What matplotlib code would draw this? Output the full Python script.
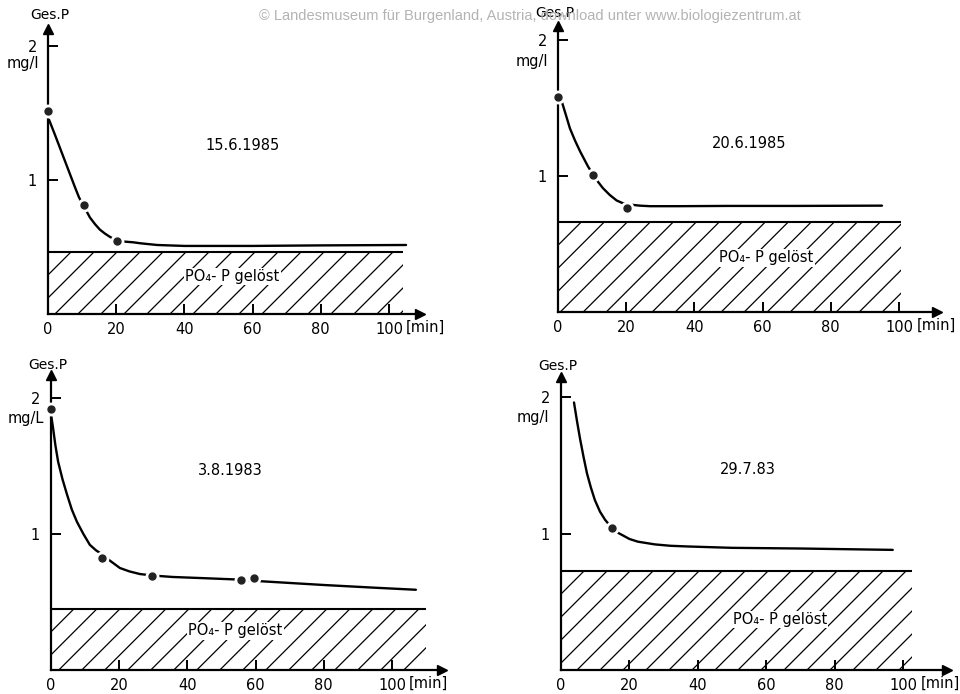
import matplotlib
matplotlib.use("Agg")
import matplotlib.pyplot as plt
from matplotlib.patches import Rectangle
import numpy as np

plt.rcParams['font.family'] = ['DejaVu Sans']

# ---------------- data ----------------
dates = ["15.6.1985", "20.6.1985", "3.8.1983", "29.7.83"]
unit_labels = ["mg/l", "mg/l", "mg/L", "mg/l"]

p1_pts_x = [0, 10.6, 20.2]
p1_pts_y = [1.515, 0.81, 0.545]
p1_curve_x = [0.3, 2, 3.5, 5, 6.5, 8, 9.1, 10.6, 12.3, 13.8, 15.2, 16.7, 18.2, 20.2, 22.6, 25, 27, 32, 40, 60, 80, 105]
p1_curve_y = [1.45, 1.34, 1.24, 1.14, 1.04, 0.94, 0.87, 0.80, 0.72, 0.67, 0.63, 0.60, 0.575, 0.55, 0.54, 0.535, 0.528, 0.515, 0.508, 0.508, 0.512, 0.515]
p1_po4 = 0.463
p1_po4_end = 104

p2_pts_x = [0, 10.3, 20.2]
p2_pts_y = [1.58, 1.01, 0.765]
p2_curve_x = [1.2, 2.3, 3.5, 5, 6.5, 8.8, 10.3, 11.8, 13.2, 15.2, 17.2, 19, 21, 24, 27, 35, 50, 70, 95]
p2_curve_y = [1.54, 1.45, 1.35, 1.26, 1.18, 1.07, 1.01, 0.955, 0.91, 0.86, 0.82, 0.80, 0.79, 0.782, 0.778, 0.778, 0.78, 0.78, 0.782]
p2_po4 = 0.66
p2_po4_end = 100.5

p3_pts_x = [0, 15, 29.6, 55.7, 59.6]
p3_pts_y = [1.92, 0.82, 0.69, 0.66, 0.675]
p3_curve_x = [0, 0.6, 1.3, 2.1, 3.4, 4.7, 6.1, 7.6, 9.5, 11.4, 13.2, 15, 17.5, 20.2, 23, 26, 29.6, 35.7, 45, 55, 60, 70, 80, 95, 107]
p3_curve_y = [1.88, 1.78, 1.65, 1.53, 1.40, 1.29, 1.18, 1.09, 1.00, 0.92, 0.88, 0.85, 0.80, 0.75, 0.725, 0.706, 0.695, 0.684, 0.675, 0.665, 0.655, 0.64, 0.625, 0.605, 0.59]
p3_po4 = 0.45
p3_po4_end = 110

p4_pts_x = [14.9]
p4_pts_y = [1.04]
p4_curve_x = [3.8, 4.7, 5.6, 6.6, 7.6, 8.7, 9.9, 11.4, 12.9, 14.9, 16.3, 17.8, 20, 22.5, 25, 27.5, 32, 37, 50, 70, 97]
p4_curve_y = [1.96, 1.82, 1.69, 1.56, 1.44, 1.34, 1.245, 1.16, 1.10, 1.04, 1.01, 0.99, 0.96, 0.94, 0.93, 0.92, 0.91, 0.905, 0.895, 0.89, 0.88]
p4_po4 = 0.725
p4_po4_end = 102.6

x_ticks = [0, 20, 40, 60, 80, 100]
x_ticklabels = ["0", "20", "40", "60", "80", "100"]
y_ticks = [1, 2]
y_ticklabels = ["1", "2"]
po4_label = "PO₄- P gelöst"
y_label = "Ges.P"
x_unit = "[min]"
watermark = "© Landesmuseum für Burgenland, Austria, download unter www.biologiezentrum.at"

# ---------------- layout (pixel geometry) ----------------
W, H = 960, 694
panels = [
    dict(ax_x=48, base_y=314, sx=3.41, sy=134, xmax=109, ymax=2.13,
         px=p1_pts_x, py=p1_pts_y, cx=p1_curve_x, cy=p1_curve_y, po4=p1_po4, po4_end=p1_po4_end,
         date=dates[0], date_xy=(57, 1.26), po4_xy=(54, 0.28), unit=unit_labels[0],
         unit_xy=(-7.3, 1.87), ges_xy=(0.5, 2.23), min_xy=(104.8, -0.1)),
    dict(ax_x=558, base_y=312, sx=3.41, sy=136, xmax=111, ymax=2.10,
         px=p2_pts_x, py=p2_pts_y, cx=p2_curve_x, cy=p2_curve_y, po4=p2_po4, po4_end=p2_po4_end,
         date=dates[1], date_xy=(56, 1.24), po4_xy=(61, 0.40), unit=unit_labels[1],
         unit_xy=(-7.6, 1.84), ges_xy=(-1.0, 2.2), min_xy=(105.2, -0.1)),
    dict(ax_x=51, base_y=670, sx=3.41, sy=136, xmax=114.7, ymax=2.17,
         px=p3_pts_x, py=p3_pts_y, cx=p3_curve_x, cy=p3_curve_y, po4=p3_po4, po4_end=p3_po4_end,
         date=dates[2], date_xy=(52.5, 1.47), po4_xy=(54, 0.29), unit=unit_labels[2],
         unit_xy=(-7.4, 1.85), ges_xy=(-0.9, 2.24), min_xy=(105.0, -0.1)),
    dict(ax_x=561, base_y=670, sx=3.42, sy=136.5, xmax=112.9, ymax=2.15,
         px=p4_pts_x, py=p4_pts_y, cx=p4_curve_x, cy=p4_curve_y, po4=p4_po4, po4_end=p4_po4_end,
         date=dates[3], date_xy=(54.7, 1.47), po4_xy=(64, 0.37), unit=unit_labels[3],
         unit_xy=(-8.2, 1.85), ges_xy=(-0.9, 2.23), min_xy=(105.2, -0.1)),
]

fig = plt.figure(figsize=(W / 100, H / 100), dpi=100)
fig.patch.set_facecolor("white")

LW = 1.6
for p in panels:
    left = p["ax_x"] / W
    bottom = (H - p["base_y"]) / H
    width = p["xmax"] * p["sx"] / W
    height = p["ymax"] * p["sy"] / H
    ax = fig.add_axes([left, bottom, width, height])
    ax.set_xlim(0, p["xmax"])
    ax.set_ylim(0, p["ymax"])
    ax.patch.set_alpha(0)
    for s in ["top", "right"]:
        ax.spines[s].set_visible(False)
    for s in ["left", "bottom"]:
        ax.spines[s].set_linewidth(LW)
    # arrow heads
    ax.plot(1, 0, ">k", transform=ax.get_yaxis_transform(), clip_on=False, markersize=7)
    ax.plot(0, 1, "^k", transform=ax.get_xaxis_transform(), clip_on=False, markersize=7)

    ax.set_xticks(x_ticks)
    ax.set_xticklabels(x_ticklabels)
    ax.set_yticks(y_ticks)
    ax.set_yticklabels(y_ticklabels)
    ax.tick_params(axis="both", direction="in", length=7, width=1.4, labelsize=10.5, colors="black")
    ax.tick_params(axis="x", pad=6)
    ax.tick_params(axis="y", pad=8)

    # dissolved PO4 region with manual hatching
    rect = Rectangle((0, 0), p["po4_end"], p["po4"], facecolor="none", edgecolor="none")
    ax.add_patch(rect)
    ax.hlines(p["po4"], 0, p["po4_end"], colors="black", linewidth=1.5)
    spacing_px = 23.0
    h_px = p["po4"] * p["sy"]
    w_px = p["po4_end"] * p["sx"]
    for c in np.arange(-h_px, w_px, spacing_px):
        x0d = c / p["sx"]
        x1d = (c + h_px) / p["sx"]
        ln, = ax.plot([x0d, x1d], [0, p["po4"]], color="black", linewidth=0.9)
        ln.set_clip_path(rect)

    # curve and measured points
    ax.plot(p["cx"], p["cy"], color="black", linewidth=1.7, solid_capstyle="round", clip_on=False)
    ax.plot(p["px"], p["py"], "o", color="white", markersize=9, clip_on=False, zorder=4)
    ax.plot(p["px"], p["py"], "o", color="#222222", markersize=5, clip_on=False, zorder=5)

    ax.text(*p["date_xy"], p["date"], ha="center", va="center", fontsize=10.5)
    ax.text(*p["po4_xy"], po4_label, ha="center", va="center", fontsize=10.5,
            bbox=dict(facecolor="white", edgecolor="none", pad=1.0))
    ax.text(*p["unit_xy"], p["unit"], ha="center", va="center", fontsize=10.5, clip_on=False)
    ax.text(*p["ges_xy"], y_label, ha="center", va="center", fontsize=10, clip_on=False, zorder=6)
    ax.text(*p["min_xy"], x_unit, ha="left", va="center", fontsize=10.5, clip_on=False)

fig.text(530 / W, 1 - 16 / H, watermark, ha="center", va="center", fontsize=10.5,
         color="#b3b3b3", family=["Liberation Sans", "DejaVu Sans"], zorder=0)

fig.savefig("out.png", dpi=100, facecolor="white")
